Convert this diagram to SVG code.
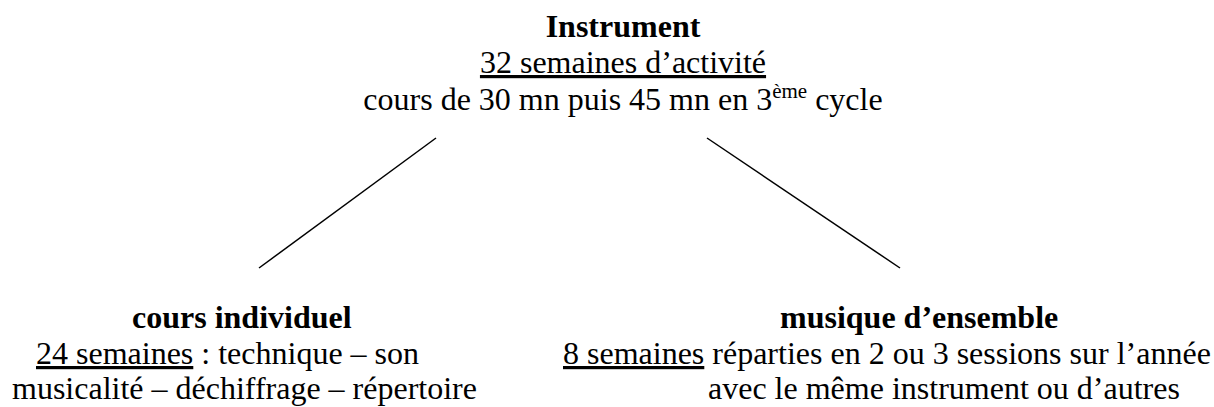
<svg xmlns="http://www.w3.org/2000/svg" width="1214" height="407" viewBox="0 0 1214 407">
<style>
.t{font-family:'Liberation Serif','Times New Roman',serif;font-size:32px;fill:#000}
.b{font-weight:bold}
.u{text-decoration:underline}
.c{stroke:#000;stroke-width:1.5;fill:none}
</style>
<rect width="1214" height="407" fill="#fff"/>
<g id="instrument">
<text class="t b" x="623" y="37" text-anchor="middle">Instrument</text>
<text class="t" x="623" y="73" text-anchor="middle"><tspan class="u">32 semaines d’activité</tspan></text>
<text class="t" x="623" y="110" text-anchor="middle">cours de 30 mn puis 45 mn en 3<tspan font-size="21" dy="-12">ème</tspan><tspan dy="12"> cycle</tspan></text>
</g>
<g id="connectors">
<line class="c" x1="436" y1="138" x2="259" y2="268"/>
<line class="c" x1="707" y1="138" x2="900" y2="268"/>
</g>
<g id="cours-individuel">
<text class="t b" x="132" y="328">cours individuel</text>
<text class="t" x="36" y="364"><tspan class="u">24 semaines</tspan> : technique – son</text>
<text class="t" x="12" y="399">musicalité – déchiffrage – répertoire</text>
</g>
<g id="musique-ensemble">
<text class="t b" x="780" y="328">musique d’ensemble</text>
<text class="t" x="563" y="364"><tspan class="u">8 semaines</tspan> réparties en 2 ou 3 sessions sur l’année</text>
<text class="t" x="708" y="399">avec le même instrument ou d’autres</text>
</g>
</svg>
